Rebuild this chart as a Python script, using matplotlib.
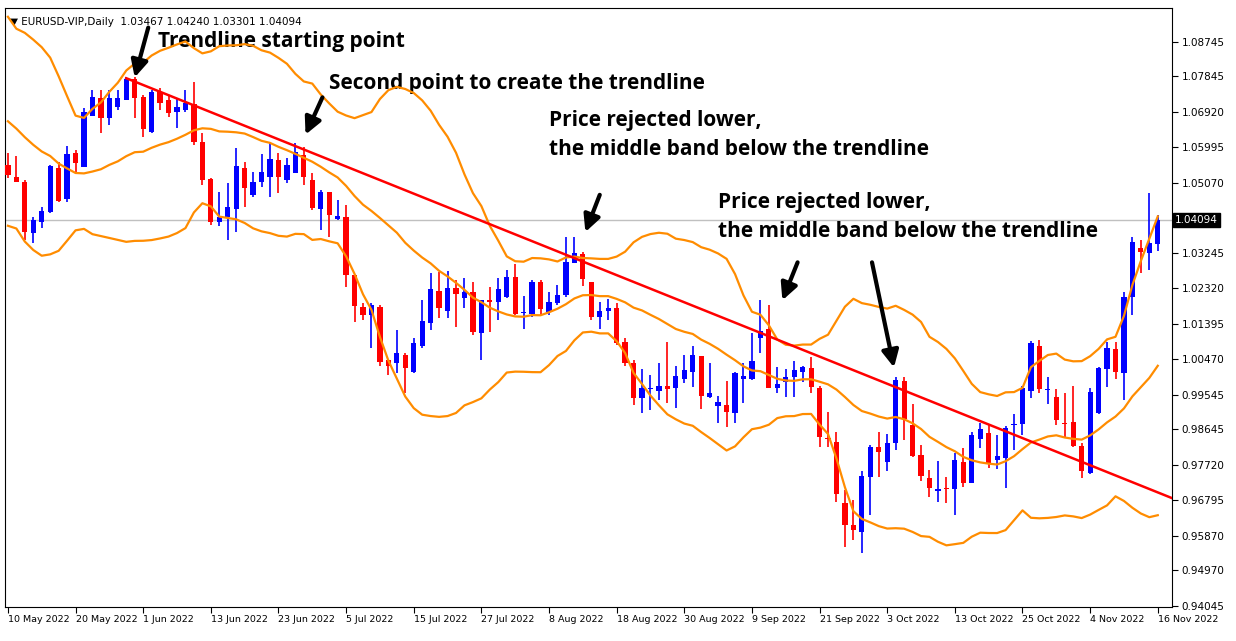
import numpy as np
import pandas as pd
import matplotlib
matplotlib.use("Agg")
import matplotlib.pyplot as plt

# ---------------- data ----------------
opens = [1.0553,1.0522,1.0509,1.0376,1.0405,1.0431,1.0546,1.0465,1.0585,1.0548,
         1.0681,1.0728,1.0676,1.0705,1.0723,1.0778,1.0731,1.0640,1.0744,1.0723,
         1.0692,1.0697,1.0713,1.0613,1.0517,1.0405,1.0418,1.0439,1.0546,1.0475,
         1.0509,1.0522,1.0566,1.0514,1.0533,1.0580,1.0514,1.0439,1.0483,1.0413,
         1.0418,1.0267,1.0183,1.0162,1.0183,1.0045,1.0037,1.0058,1.0013,1.0081,
         1.0141,1.0225,1.0172,1.0232,1.0206,1.0222,1.0115,1.0201,1.0196,1.0209,
         1.0262,1.0167,1.0165,1.0248,1.0170,1.0193,1.0214,1.0298,1.0322,1.0248,
         1.0157,1.0172,1.0180,1.0092,1.0037,0.9946,0.9969,0.9964,0.9977,0.9972,
         0.9995,1.0013,1.0055,0.9949,0.9925,0.9928,0.9907,0.9995,0.9995,1.0102,
         1.0126,0.9972,0.9988,1.0001,1.0013,1.0024,0.9972,0.9842,0.9831,0.9673,
         0.9616,0.9598,0.9741,0.9818,0.9780,0.9829,0.9990,0.9876,0.9798,0.9738,
         0.9704,0.9712,0.9709,0.9780,0.9725,0.9839,0.9855,0.9785,0.9790,0.9876,
         0.9878,0.9964,1.0081,0.9967,0.9949,0.9881,0.9884,0.9821,0.9751,0.9907,
         1.0021,1.0073,1.0011,1.0209,1.0337,1.0324,1.03467]
highs = [1.0585,1.0577,1.0514,1.0418,1.0444,1.0553,1.0561,1.0603,1.0593,1.0702,
         1.0749,1.0749,1.0749,1.0749,1.0783,1.0783,1.0736,1.0749,1.0754,1.0736,
         1.0728,1.0749,1.0770,1.0637,1.0520,1.0483,1.0507,1.0598,1.0561,1.0535,
         1.0582,1.0613,1.0585,1.0572,1.0611,1.0600,1.0533,1.0488,1.0483,1.0462,
         1.0449,1.0267,1.0193,1.0193,1.0188,1.0045,1.0123,1.0063,1.0102,1.0201,
         1.0272,1.0274,1.0277,1.0253,1.0259,1.0248,1.0201,1.0235,1.0259,1.0280,
         1.0295,1.0212,1.0253,1.0253,1.0222,1.0240,1.0366,1.0366,1.0327,1.0248,
         1.0196,1.0204,1.0193,1.0102,1.0045,1.0021,1.0006,1.0037,1.0092,1.0031,
         1.0058,1.0081,1.0055,1.0037,0.9951,0.9990,1.0013,1.0037,1.0115,1.0201,
         1.0188,1.0026,1.0021,1.0042,1.0031,1.0052,0.9977,0.9910,0.9857,0.9707,
         0.9681,0.9756,0.9824,0.9857,0.9852,1.0001,1.0001,0.9930,0.9824,0.9759,
         0.9782,0.9741,0.9803,0.9816,0.9857,0.9881,0.9878,0.9850,0.9873,0.9904,
         0.9977,1.0094,1.0097,1.0001,0.9969,0.9959,0.9977,0.9829,0.9972,1.0026,
         1.0092,1.0092,1.0222,1.0366,1.0358,1.0480,1.04240]
lows = [1.0520,1.0509,1.0358,1.0350,1.0389,1.0428,1.0457,1.0457,1.0535,1.0548,
        1.0681,1.0637,1.0658,1.0697,1.0723,1.0676,1.0626,1.0637,1.0697,1.0678,
        1.0650,1.0692,1.0605,1.0501,1.0397,1.0394,1.0358,1.0379,1.0444,1.0470,
        1.0496,1.0470,1.0480,1.0507,1.0533,1.0501,1.0436,1.0384,1.0366,1.0410,
        1.0235,1.0144,1.0149,1.0076,1.0031,1.0006,1.0011,0.9959,1.0011,1.0076,
        1.0123,1.0154,1.0154,1.0131,1.0180,1.0110,1.0045,1.0118,1.0149,1.0206,
        1.0162,1.0126,1.0157,1.0162,1.0162,1.0188,1.0209,1.0298,1.0238,1.0149,
        1.0126,1.0149,1.0084,1.0031,0.9928,0.9907,0.9915,0.9941,0.9933,0.9920,
        0.9985,0.9975,0.9917,0.9946,0.9881,0.9870,0.9881,0.9933,0.9993,1.0063,
        0.9972,0.9959,0.9949,0.9949,0.9988,0.9959,0.9818,0.9818,0.9676,0.9559,
        0.9577,0.9543,0.9642,0.9741,0.9756,0.9811,0.9836,0.9793,0.9730,0.9689,
        0.9676,0.9673,0.9642,0.9715,0.9725,0.9816,0.9764,0.9761,0.9712,0.9811,
        0.9850,0.9946,0.9959,0.9930,0.9876,0.9842,0.9818,0.9738,0.9748,0.9904,
        0.9975,0.9995,0.9941,1.0162,1.0272,1.0280,1.03301]
closes = [1.0527,1.0509,1.0379,1.0410,1.0434,1.0551,1.0460,1.0582,1.0559,1.0692,
          1.0731,1.0676,1.0728,1.0728,1.0778,1.0728,1.0647,1.0744,1.0715,1.0689,
          1.0705,1.0715,1.0613,1.0514,1.0405,1.0418,1.0444,1.0551,1.0494,1.0509,
          1.0535,1.0569,1.0522,1.0553,1.0587,1.0522,1.0441,1.0483,1.0423,1.0421,
          1.0267,1.0186,1.0162,1.0188,1.0039,1.0031,1.0063,1.0024,1.0089,1.0146,
          1.0230,1.0180,1.0232,1.0217,1.0222,1.0118,1.0201,1.0196,1.0230,1.0262,
          1.0165,1.0170,1.0248,1.0178,1.0196,1.0214,1.0300,1.0324,1.0256,1.0157,
          1.0172,1.0180,1.0089,1.0037,0.9946,0.9972,0.9972,0.9977,0.9969,1.0003,
          1.0019,1.0058,0.9951,0.9959,0.9936,0.9910,1.0011,1.0003,1.0042,1.0120,
          0.9972,0.9982,1.0001,1.0019,1.0026,0.9975,0.9844,0.9839,0.9696,0.9616,
          0.9603,0.9743,0.9818,0.9806,0.9829,0.9993,0.9891,0.9795,0.9743,0.9712,
          0.9709,0.9709,0.9785,0.9725,0.9850,0.9865,0.9777,0.9795,0.9868,0.9878,
          0.9972,1.0089,0.9969,0.9969,0.9889,0.9878,0.9821,0.9756,0.9962,1.0024,
          1.0076,1.0013,1.0209,1.0353,1.0327,1.0350,1.04094]
# closes of the 19 sessions before the first visible bar (for the Bollinger bands)
pre_closes = [1.0891,1.0827,1.0808,1.0780,1.0787,1.0853,1.0838,1.0796,1.0713,1.0634,
              1.0557,1.0500,1.0544,1.0508,1.0522,1.0620,1.0540,1.0550,1.0560]

date_labels = ["10 May 2022","20 May 2022","1 Jun 2022","13 Jun 2022","23 Jun 2022",
               "5 Jul 2022","15 Jul 2022","27 Jul 2022","8 Aug 2022","18 Aug 2022",
               "30 Aug 2022","9 Sep 2022","21 Sep 2022","3 Oct 2022","13 Oct 2022",
               "25 Oct 2022","4 Nov 2022","16 Nov 2022"]
price_ticks = [1.08745,1.07845,1.06920,1.05995,1.05070,1.03245,1.02320,1.01395,
               1.00470,0.99545,0.98645,0.97720,0.96795,0.95870,0.94970,0.94045]
last_price = 1.04094
trend_bars = [14, 34]
trend_prices = [1.0780, 1.0603]

# ---------------- figure ----------------
fig = plt.figure(figsize=(12.36, 6.41), dpi=100)
ax = fig.add_axes([0.004, 0.053, 0.944, 0.9345])
n = len(closes)
x = np.arange(n)
o = np.array(opens); h = np.array(highs); l = np.array(lows); c = np.array(closes)
col = np.where(c >= o, "#0000FF", "#FF0000")

ax.vlines(x, l, h, colors=col, lw=1.2, zorder=3)
body_b = np.minimum(o, c)
body_h = np.maximum(np.abs(c - o), 0.0003)
ax.bar(x, body_h, bottom=body_b, width=0.62, color=col, zorder=4, linewidth=0)

allc = pd.Series(pre_closes + closes)
mid = allc.rolling(20).mean().values[len(pre_closes):]
sd = allc.rolling(20).std(ddof=0).values[len(pre_closes):]
band_col = "#FF8C00"
ax.plot(x, mid, color=band_col, lw=1.6, zorder=5)
ax.plot(x, mid + 2 * sd, color=band_col, lw=1.6, zorder=5)
ax.plot(x, mid - 2 * sd, color=band_col, lw=1.6, zorder=5)

# trendline
slope = (trend_prices[1] - trend_prices[0]) / (trend_bars[1] - trend_bars[0])
tx = np.array([trend_bars[0], n + 2])
ax.plot(tx, trend_prices[0] + slope * (tx - trend_bars[0]), color="#FF0000", lw=1.8, zorder=6)

ax.axhline(last_price, color="#C0C0C0", lw=1, zorder=1)

ax.set_xlim(-0.35, 137.65)
ax.set_ylim(0.94015, 1.0963)

ax.yaxis.tick_right()
ax.set_yticks(price_ticks)
ax.set_yticklabels([f"{v:.5f}" for v in price_ticks], fontsize=7.5, family="DejaVu Sans")
ax.tick_params(axis="y", length=4, width=0.8, pad=3)
ax.set_xticks(x[::8])
ax.set_xticklabels(date_labels, fontsize=6.8, ha="left")
ax.tick_params(axis="x", length=4, width=0.8, pad=2)
for s in ax.spines.values():
    s.set_linewidth(0.8)

ax.text(1.003, last_price, f"{last_price:.5f}", transform=ax.get_yaxis_transform(),
        fontsize=7.5, color="white", va="center", ha="left",
        bbox=dict(boxstyle="square,pad=0.2", fc="black", ec="black"), zorder=10)

ax.text(0.004, 0.985, "\u25BC EURUSD-VIP,Daily  1.03467 1.04240 1.03301 1.04094",
        transform=ax.transAxes, fontsize=7.5, va="top", ha="left")

fnt = dict(fontsize=15, fontweight="bold", family="Open Sans", color="black")
aprops = dict(arrowstyle="-|>,head_length=1.0,head_width=0.5", lw=3, color="black",
              shrinkA=0, shrinkB=0)

def annot(tip, tail):
    ax.annotate("", xy=tip, xytext=tail, arrowprops=aprops, zorder=12)

ax.text(17.8, 1.0877, "Trendline starting point", va="center", **fnt)
annot((15.0, 1.0782), (16.6, 1.0912))
ax.text(38.0, 1.0767, "Second point to create the trendline", va="center", **fnt)
annot((35.2, 1.0633), (37.2, 1.0730))
ax.text(64.0, 1.0632, "Price rejected lower,\nthe middle band below the trendline",
        va="center", linespacing=1.45, **fnt)
annot((68.3, 1.0379), (70.0, 1.0476))
ax.text(84.0, 1.0418, "Price rejected lower,\nthe middle band below the trendline",
        va="center", linespacing=1.45, **fnt)
annot((91.6, 1.0201), (93.4, 1.0300))
annot((104.8, 1.0026), (102.2, 1.0300))

fig.savefig("out.png", dpi=100)
